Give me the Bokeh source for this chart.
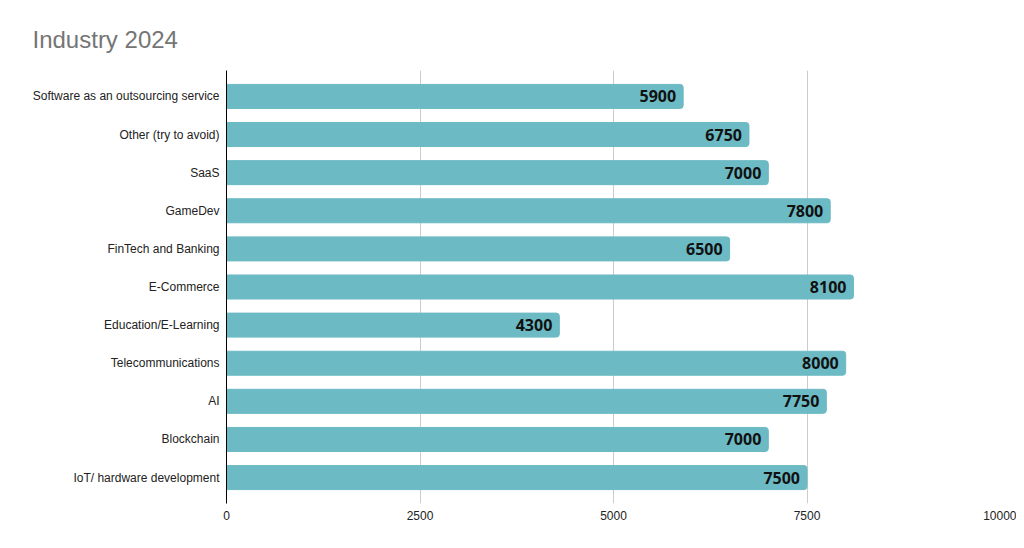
from bokeh.plotting import figure
from bokeh.models import ColumnDataSource, FactorRange, Range1d, FixedTicker, LabelSet
from bokeh.core.properties import value
from bokeh.embed import file_html
from bokeh.resources import INLINE

categories = ["Software as an outsourcing service", "Other (try to avoid)", "SaaS", "GameDev",
              "FinTech and Banking", "E-Commerce", "Education/E-Learning", "Telecommunications",
              "AI", "Blockchain", "IoT/ hardware development"]
values = [5900, 6750, 7000, 7800, 6500, 8100, 4300, 8000, 7750, 7000, 7500]
x_ticks = [0, 2500, 5000, 7500, 10000]

src = ColumnDataSource(dict(cat=categories, val=values, lab=[str(v) for v in values]))

p = figure(width=1016, height=540, output_backend="svg", toolbar_location=None,
           y_range=FactorRange(factors=categories[::-1], range_padding=0.18,
                               range_padding_units="absolute"),
           x_range=Range1d(0, 10000),
           min_border_left=226, min_border_right=16, min_border_top=70, min_border_bottom=37)

p.hbar(y="cat", right="val", left=0, height=0.63, source=src, color="#6cbac4",
       border_radius=(0, 3, 3, 0))

labels = LabelSet(x="val", y="cat", text="lab", source=src, x_offset=-7,
                  text_align="right", text_baseline="middle", text_font=value("Open Sans"),
                  text_font_style="bold", text_font_size="16px", text_color="#111111")
p.add_layout(labels)

p.title.text = "Industry 2024"
p.title.text_font = "Liberation Sans"
p.title.text_font_size = "24px"
p.title.text_font_style = "normal"
p.title.text_color = "#757575"
p.title.align = "left"
p.title.offset = -194
p.title.standoff = 36

p.outline_line_color = None
p.ygrid.grid_line_color = None
p.xgrid.grid_line_color = "#cccccc"
p.xgrid.ticker = FixedTicker(ticks=x_ticks)
p.xaxis.ticker = FixedTicker(ticks=x_ticks)
p.xaxis.axis_line_color = None
p.xaxis.major_tick_line_color = None
p.xaxis.minor_tick_line_color = None
p.xaxis.major_tick_out = 0
p.xaxis.major_tick_in = 0
p.xaxis.major_label_text_font = "Liberation Sans"
p.xaxis.major_label_text_font_size = "12px"
p.xaxis.major_label_text_color = "#222222"
p.xaxis.major_label_standoff = 7

p.yaxis.axis_line_color = "#000000"
p.yaxis.major_tick_line_color = None
p.yaxis.minor_tick_line_color = None
p.yaxis.major_tick_out = 0
p.yaxis.major_tick_in = 0
p.yaxis.major_label_text_font = "Liberation Sans"
p.yaxis.major_label_text_font_size = "12px"
p.yaxis.major_label_text_color = "#222222"
p.yaxis.major_label_standoff = 7

open("out.html", "w").write(file_html(p, INLINE))
